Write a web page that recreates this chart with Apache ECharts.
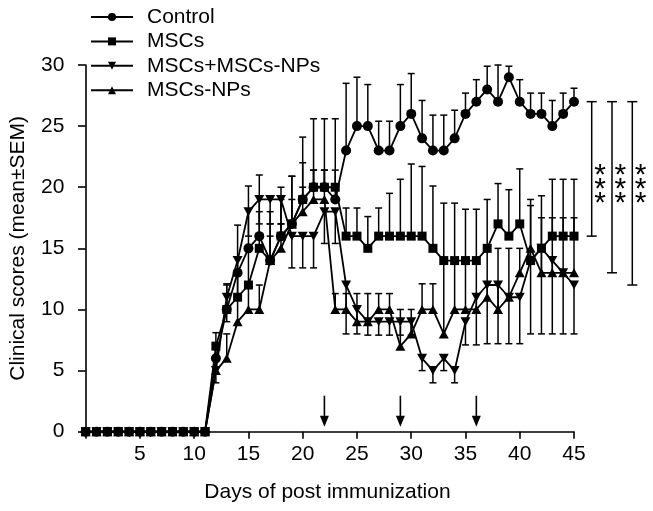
<!DOCTYPE html>
<html><head><meta charset="utf-8">
<script src="https://cdn.jsdelivr.net/npm/echarts@6/dist/echarts.min.js"></script>
<style>html,body{margin:0;padding:0;background:#fff}#c{width:653px;height:511px}</style>
</head><body><div id="c"></div><script>
// ---------- data ----------
const days = [0,1,2,3,4,5,6,7,8,9,10,11,12,13,14,15,16,17,18,19,20,21,22,23,24,25,26,27,28,29,30,31,32,33,34,35,36,37,38,39,40,41,42,43,44,45];
const seriesNames = ['Control','MSCs','MSCs+MSCs-NPs','MSCs-NPs'];
const control = [0,0,0,0,0,0,0,0,0,0,0,0, 6,10,13,15,16,14,16,17,19,20,20,19,23,25,25,23,23,25,26,24,23,23,24,26,27,28,27,29,27,26,26,25,26,27];
const mscs    = [0,0,0,0,0,0,0,0,0,0,0,0, 7,10,11,12,15,14,16,17,19,20,20,20,16,16,15,16,16,16,16,16,15,14,14,14,14,15,17,16,17,14,15,16,16,16];
const mscsPlusNPs = [0,0,0,0,0,0,0,0,0,0,0,0, 5,11,14,18,19,19,19,16,16,16,18,18,12,10,9,9,9,9,9,6,5,6,5,9,11,12,12,11,11,14,15,14,13,12];
const mscsNPs = [0,0,0,0,0,0,0,0,0,0,0,0, 5,6,9,10,10,14,15,17,18,19,19,10,10,9,9,10,10,7,8,10,10,8,10,10,10,11,10,11,13,15,13,13,13,13];
// SEM (error bar lengths); Control, MSCs and MSCs-NPs drawn above, MSCs+MSCs-NPs below
const controlSEM = [0,0,0,0,0,0,0,0,0,0,0,0, 1,2,3.9,5.1,5,4,4,3.9,5.1,5.6,5.6,6.6,5.5,4,3.4,2.4,2.4,3.4,3.3,3.1,2.9,2.9,2.3,1.7,1.8,1.9,3,0.9,1.8,1.7,1.7,2.1,1.7,1.1];
const mscsSEM = [0,0,0,0,0,0,0,0,0,0,0,0, 1.1,2.1,2,3,3,3,3,3.9,3,1.4,1.4,1.4,2.3,2.3,2.6,2.3,3.5,4.65,5.9,5.7,5.1,4.7,4.7,4.2,4.2,4,3.3,3.8,4.5,5,4.3,4.65,4.65,4.65];
const mscsPlusNPsSEM = [0,0,0,0,0,0,0,0,0,0,0,0, 1,2,3,2,2,2,2,2.6,2.6,2.6,2.6,2.6,4,2,1.1,1.1,1.1,1.1,1.1,1,1,1,1,1.9,3.9,4.8,4.8,3.8,3.8,6,7,6,5,4];
const mscsNPsSEM = [0,0,0,0,0,0,0,0,0,0,0,0, 1,2,2,2,2,2,2,2,2,2.4,2.4,1.3,1.3,2.3,2.3,1.3,1.3,3,2,2.1,2.1,6,4,4,4,4,5,4,2,3.5,4.5,4.5,4.5,4.5];
const treatmentDays = [22, 29, 36];
const sigRanges = [[27,16],[27,13],[27,12]];
const sigLabel = '*\n*\n*';
const xTickValues = [0,5,10,15,20,25,30,35,40,45];
const xLabelValues = [5,10,15,20,25,30,35,40,45];

// ---------- chart ----------
const FONT = 'Liberation Sans, Arial, sans-serif';
const chart = echarts.init(document.getElementById('c'));
const triDown = 'path://M0,0 L10,0 L5,9 Z';
const symbols = ['circle','rect',triDown,'triangle'];
const symSizes = [10,9,[10,9],[10,9]];
const values = [control, mscs, mscsPlusNPs, mscsNPs];
const sems = [controlSEM, mscsSEM, mscsPlusNPsSEM, mscsNPsSEM];
const errDir = [1, 1, -1, 1];

const lineSeries = values.map((v,i)=>({
  name: seriesNames[i], type:'line', data: days.map((d,k)=>[d,v[k]]),
  symbol: symbols[i], symbolSize: symSizes[i], showAllSymbol:true,
  lineStyle:{color:'#000',width:1.8}, itemStyle:{color:'#000',borderWidth:0},
  z: 5-i, animation:false, clip:false
}));

const errSeries = values.map((v,i)=>({
  type:'custom', name: seriesNames[i]+'-err', animation:false, z:2, silent:true, clip:false,
  data: days.map((d,k)=>[d, v[k], v[k]+errDir[i]*sems[i][k], sems[i][k]]),
  renderItem(params, api){
    if (api.value(3) <= 0) return null;
    const lo = api.coord([api.value(0), api.value(1)]);
    const hi = api.coord([api.value(0), Math.min(30, api.value(2))]);
    const w = 3.5;
    const st = {stroke:'#000', lineWidth:1.5, fill:null};
    const ch = [{type:'line', shape:{x1:lo[0],y1:lo[1],x2:hi[0],y2:hi[1]}, style:st}];
    if (api.value(2) <= 30) ch.push({type:'line', shape:{x1:hi[0]-w,y1:hi[1],x2:hi[0]+w,y2:hi[1]}, style:st});
    return {type:'group', children:ch};
  }
}));

const arrowSeries = {
  type:'custom', animation:false, silent:true, z:3,
  data: treatmentDays.map(d=>[d]),
  renderItem(params, api){
    const base = api.coord([api.value(0), 0]);
    const x = base[0], tip = base[1]-5, top = tip-31;
    return {type:'group', children:[
      {type:'line', shape:{x1:x,y1:top,x2:x,y2:tip-8}, style:{stroke:'#000',lineWidth:1.6}},
      {type:'polygon', shape:{points:[[x-4.5,tip-11],[x+4.5,tip-11],[x,tip]]}, style:{fill:'#000'}}
    ]};
  }
};

const sigSeries = {
  type:'custom', animation:false, silent:true, z:3, clip:false,
  data: sigRanges.map((r,i)=>[i, r[0], r[1]]),
  renderItem(params, api){
    const i = api.value(0);
    const a = api.coord([45, api.value(1)]);
    const b = api.coord([45, api.value(2)]);
    const x = a[0] + 17.7 + i*20.3;
    const st = {stroke:'#000', lineWidth:1.5};
    const starY = api.coord([45, 19.8])[1];
    return {type:'group', children:[
      {type:'line', shape:{x1:x,y1:a[1],x2:x,y2:b[1]}, style:st},
      {type:'line', shape:{x1:x-5,y1:a[1],x2:x+5,y2:a[1]}, style:st},
      {type:'line', shape:{x1:x-5,y1:b[1],x2:x+5,y2:b[1]}, style:st},
      {type:'text', x:x+8.4, y:starY, style:{text:sigLabel, fill:'#000', font:'30px '+FONT, align:'center', verticalAlign:'middle', lineHeight:14}}
    ]};
  }
};

chart.setOption({
  animation:false,
  backgroundColor:'#fff',
  grid:{left:79.3, right:79, top:65, bottom:79.3, containLabel:false},
  legend:{
    orient:'vertical', left:90, top:6.5, padding:0, itemWidth:42, itemHeight:10, itemGap:3.4,
    data: seriesNames,
    textStyle:{fontFamily:FONT, fontSize:21, color:'#000', padding:[0,0,0,9]},
    selectedMode:false
  },
  xAxis:{
    type:'value', min:-0.43, max:45,
    name:'Days of post immunization', nameLocation:'middle', nameGap:50,
    nameTextStyle:{fontFamily:FONT, fontSize:21, color:'#000'},
    axisLine:{lineStyle:{color:'#000',width:1.6}},
    axisTick:{show:true, length:7, customValues:xTickValues, lineStyle:{color:'#000',width:1.6}},
    axisLabel:{customValues:xLabelValues, margin:12, fontFamily:FONT, fontSize:21, color:'#000'},
    splitLine:{show:false}
  },
  yAxis:{
    type:'value', min:0, max:30, interval:5,
    name:'Clinical scores (mean\u00B1SEM)', nameLocation:'middle', nameGap:52,
    nameTextStyle:{fontFamily:FONT, fontSize:21, color:'#000'},
    axisLine:{show:true, lineStyle:{color:'#000',width:1.6}},
    axisTick:{show:true, length:7.7, lineStyle:{color:'#000',width:1.6}},
    axisLabel:{margin:16.6, fontFamily:FONT, fontSize:21, color:'#000'},
    splitLine:{show:false}
  },
  series:[...errSeries, ...lineSeries, arrowSeries, sigSeries]
});
</script></body></html>
